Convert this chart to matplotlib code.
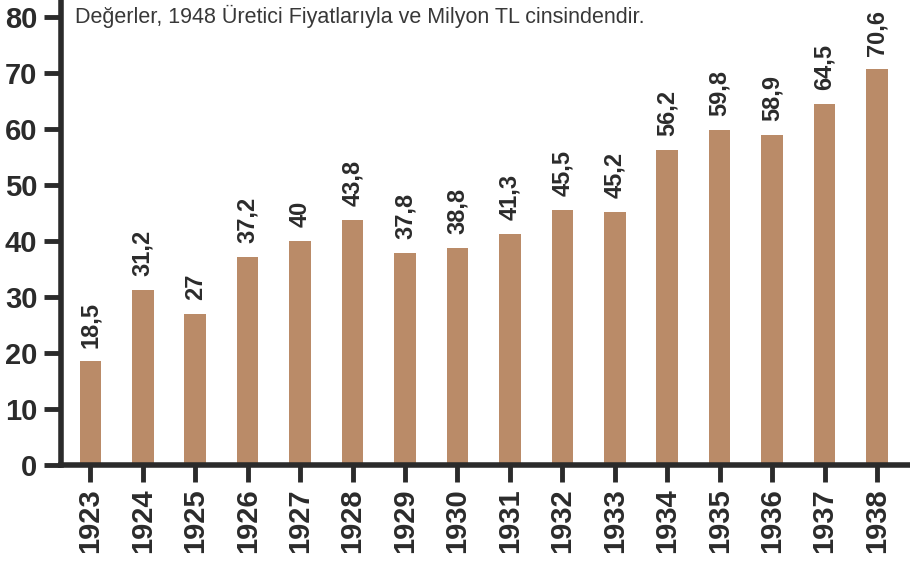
import numpy as np
import matplotlib.pyplot as plt

plt.rcParams['font.family'] = ['Liberation Sans', 'DejaVu Sans']

# Veriler
years = ['1923', '1924', '1925', '1926', '1927', '1928', '1929', '1930',
         '1931', '1932', '1933', '1934', '1935', '1936', '1937', '1938']
values = [18.5, 31.2, 27, 37.2, 40, 43.8, 37.8, 38.8,
          41.3, 45.5, 45.2, 56.2, 59.8, 58.9, 64.5, 70.6]
labels = ['18,5', '31,2', '27', '37,2', '40', '43,8', '37,8', '38,8',
          '41,3', '45,5', '45,2', '56,2', '59,8', '58,9', '64,5', '70,6']
yticks = [0, 10, 20, 30, 40, 50, 60, 70, 80]

dark = '#2b2b2b'
barColor = '#BA8B68'

fig = plt.figure(figsize=(9.1, 5.61), dpi=100)
ax = fig.add_axes([0.067, 0.171, 0.933, 0.829])

x = np.arange(len(years))
bars = ax.bar(x, values, width=0.41, color=barColor)

for xi, v, lab in zip(x, values, labels):
    ax.annotate(lab, (xi, v), xytext=(0, 10), textcoords='offset points',
                rotation=90, ha='center', va='bottom',
                fontsize=17, fontweight='bold', color=dark)

ax.set_xlim(-0.56, 15.63)
ax.set_ylim(0, 83)
ax.set_yticks(yticks)
ax.set_xticks(x)
ax.set_xticklabels(years, rotation=90)

for side in ['top', 'right']:
    ax.spines[side].set_visible(False)
for side in ['left', 'bottom']:
    ax.spines[side].set_linewidth(4)
    ax.spines[side].set_color(dark)

ax.tick_params(axis='both', length=12, width=3.5, color=dark, labelcolor=dark,
               labelsize=21, pad=5)
for t in ax.get_xticklabels() + ax.get_yticklabels():
    t.set_fontweight('bold')

ax.text(0.016, 0.989, 'Değerler, 1948 Üretici Fiyatlarıyla ve Milyon TL cinsindendir.',
        transform=ax.transAxes, ha='left', va='top', fontsize=15.5, color='#383838')

fig.savefig('out.png', dpi=100)
